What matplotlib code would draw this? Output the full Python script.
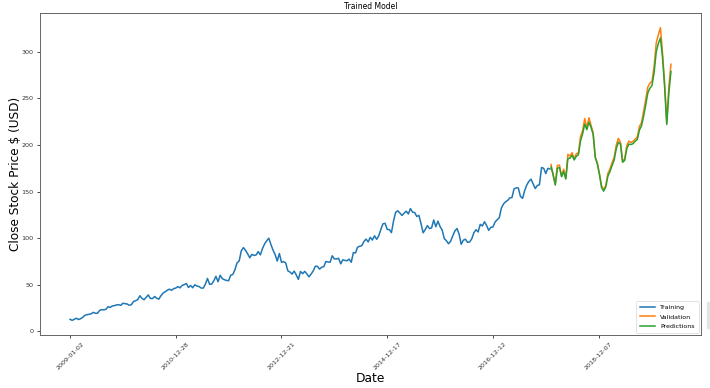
import numpy as np
import matplotlib
matplotlib.use("Agg")
import matplotlib.pyplot as plt
from matplotlib.patches import Rectangle

# --- data (close price, every ~10 trading days) ---
n_total = 2843
train_len = 2275

train_close = [
    # 2009
    12.96, 11.8, 12.9, 14.1, 12.7, 13.6, 15.1, 17.2, 17.9, 18.4, 18.8, 20.4, 19.4,
    19.4, 22.5, 23.3, 23.1, 23.7, 26.5, 25.7, 27.3, 27.6, 28.4, 28.6, 27.9, 30.2,
    # 2010
    29.7, 29.4, 28.0, 28.6, 32.0, 32.9, 34.0, 38.2, 35.5, 33.9, 36.5, 39.1, 35.3,
    35.2, 37.4, 35.5, 34.6, 38.3, 41.0, 42.6, 44.1, 45.3, 44.1, 45.8, 46.5,
    # 2011
    48.0, 46.7, 49.3, 50.1, 51.4, 47.1, 49.2, 46.8, 50.0, 48.6, 48.1, 46.5, 46.4,
    50.6, 56.8, 50.5, 50.8, 54.3, 59.1, 53.3, 60.2, 56.6, 55.5, 54.6, 54.4,
    # 2012
    60.3, 61.1, 66.3, 73.6, 75.6, 86.6, 89.9, 87.0, 83.2, 79.0, 82.6, 81.5, 82.0,
    85.6, 82.1, 88.8, 93.8, 97.2, 100.0, 93.2, 87.2, 82.4, 75.4, 83.6, 74.1,
    # 2013
    74.9, 73.4, 65.0, 63.7, 61.5, 64.7, 60.5, 55.8, 64.3, 61.9, 64.4, 61.7, 58.5,
    61.5, 64.8, 69.9, 69.8, 66.8, 68.8, 69.5, 75.0, 74.4, 74.2, 81.1, 77.8,
    # 2014
    77.7, 78.4, 72.5, 76.8, 76.1, 75.9, 77.5, 74.2, 84.5, 84.1, 90.4, 91.3, 92.0,
    96.5, 99.0, 96.0, 100.9, 98.0, 102.6, 98.8, 102.5, 109.4, 115.5, 115.9, 109.4,
    # 2015
    109.3, 106.0, 118.6, 127.8, 129.4, 127.0, 124.4, 126.8, 129.0, 126.0, 131.8, 127.9, 127.5,
    123.3, 124.5, 115.5, 105.8, 109.3, 113.5, 110.4, 111.0, 119.5, 112.3, 118.3, 112.5, 108.7,
    # 2016
    99.5, 97.3, 94.0, 96.7, 102.5, 107.7, 110.4, 104.4, 93.4, 97.9, 98.9, 95.6, 95.9,
    99.4, 105.9, 109.1, 106.7, 114.9, 113.1, 117.6, 113.7, 108.4, 111.6, 112.0, 117.3,
    # 2017 - Jan 2018
    119.8, 121.9, 132.4, 136.7, 139.1, 140.6, 143.3, 143.6, 153.0, 154.0, 153.9, 145.0, 142.7,
    151.0, 157.1, 161.0, 163.4, 158.3, 153.3, 156.6, 157.4, 175.9, 175.0, 169.4, 175.0, 174.3,
]

valid_close = [
    179.1, 167.4, 158.0, 178.1, 178.4, 166.5, 174.0, 164.2, 190.0, 188.2,
    191.7, 184.9, 190.6, 191.6, 209.0, 215.5, 228.4, 218.2, 229.3, 221.2,
    213.3, 186.8, 180.9, 169.1, 156.2, 152.3, 156.3, 169.4, 174.3, 180.9,
    186.8, 200.1, 207.2, 202.9, 182.8, 185.2, 199.5, 204.2, 202.6, 204.0,
    206.5, 208.7, 219.9, 224.0, 235.9, 249.1, 262.2, 266.4, 268.5, 284.3,
    309.6, 318.3, 326.0, 298.2, 266.2, 224.0, 262.5, 286.7,
]

predictions = [
    176.5, 168.0, 157.0, 175.0, 176.0, 166.0, 171.5, 163.5, 185.5, 186.0,
    189.0, 184.0, 188.0, 189.5, 204.5, 212.0, 222.5, 216.5, 224.5, 219.0,
    211.5, 187.0, 179.5, 168.5, 154.5, 150.5, 155.0, 166.5, 171.5, 178.0,
    184.0, 196.0, 203.0, 201.0, 181.5, 183.5, 196.0, 201.0, 200.5, 201.5,
    204.0, 206.0, 216.0, 220.5, 231.0, 243.0, 256.0, 261.0, 264.0, 278.0,
    300.0, 309.0, 315.0, 294.0, 262.0, 222.0, 256.0, 279.0,
]

tick_dates = ['2009-01-02', '2010-12-28', '2012-12-21', '2014-12-17', '2016-12-12', '2018-12-07']

# x positions are trading-day indices
x_train = np.arange(len(train_close)) * 10
x_valid = np.linspace(train_len, n_total - 1, len(valid_close))

fig = plt.figure(figsize=(7.1, 3.88), dpi=100)
ax = fig.add_axes([40 / 710, 1 - 335 / 388, 661 / 710, 322 / 388])

ax.plot(x_train, train_close, color='C0', lw=1.1, label='Training')
ax.plot(x_valid, valid_close, color='C1', lw=1.1, label='Validation')
ax.plot(x_valid, predictions, color='C2', lw=1.1, label='Predictions')

ax.set_title('Trained Model', fontsize=5.5, pad=3)
ax.set_xlabel('Date', fontsize=8.8, labelpad=1)
ax.set_ylabel('Close Stock Price $ (USD)', fontsize=8.7, labelpad=0)

ax.set_xticks(np.arange(0, n_total, 500))
ax.set_xticklabels(tick_dates, rotation=45, fontsize=4.6, color='#333333')
ax.set_yticks(np.arange(0, 301, 50))
ax.tick_params(axis='y', labelsize=4.6, labelcolor='#333333')
ax.tick_params(length=2.5, width=0.5, pad=2)

for s in ax.spines.values():
    s.set_linewidth(0.7)
    s.set_color('#666666')

leg = ax.legend(loc='lower right', fontsize=4.5, handlelength=2.5, borderpad=0.6,
                labelspacing=0.6, framealpha=1.0, borderaxespad=0.4)
leg.get_frame().set_linewidth(0.4)

# small grey scrollbar remnant at the right edge of the screenshot
fig.patches.append(Rectangle((707 / 710, 1 - 328 / 388), 3 / 710, 26 / 388,
                             transform=fig.transFigure, color='#e4e4e4', zorder=0))

fig.savefig('out.png', dpi=100)
